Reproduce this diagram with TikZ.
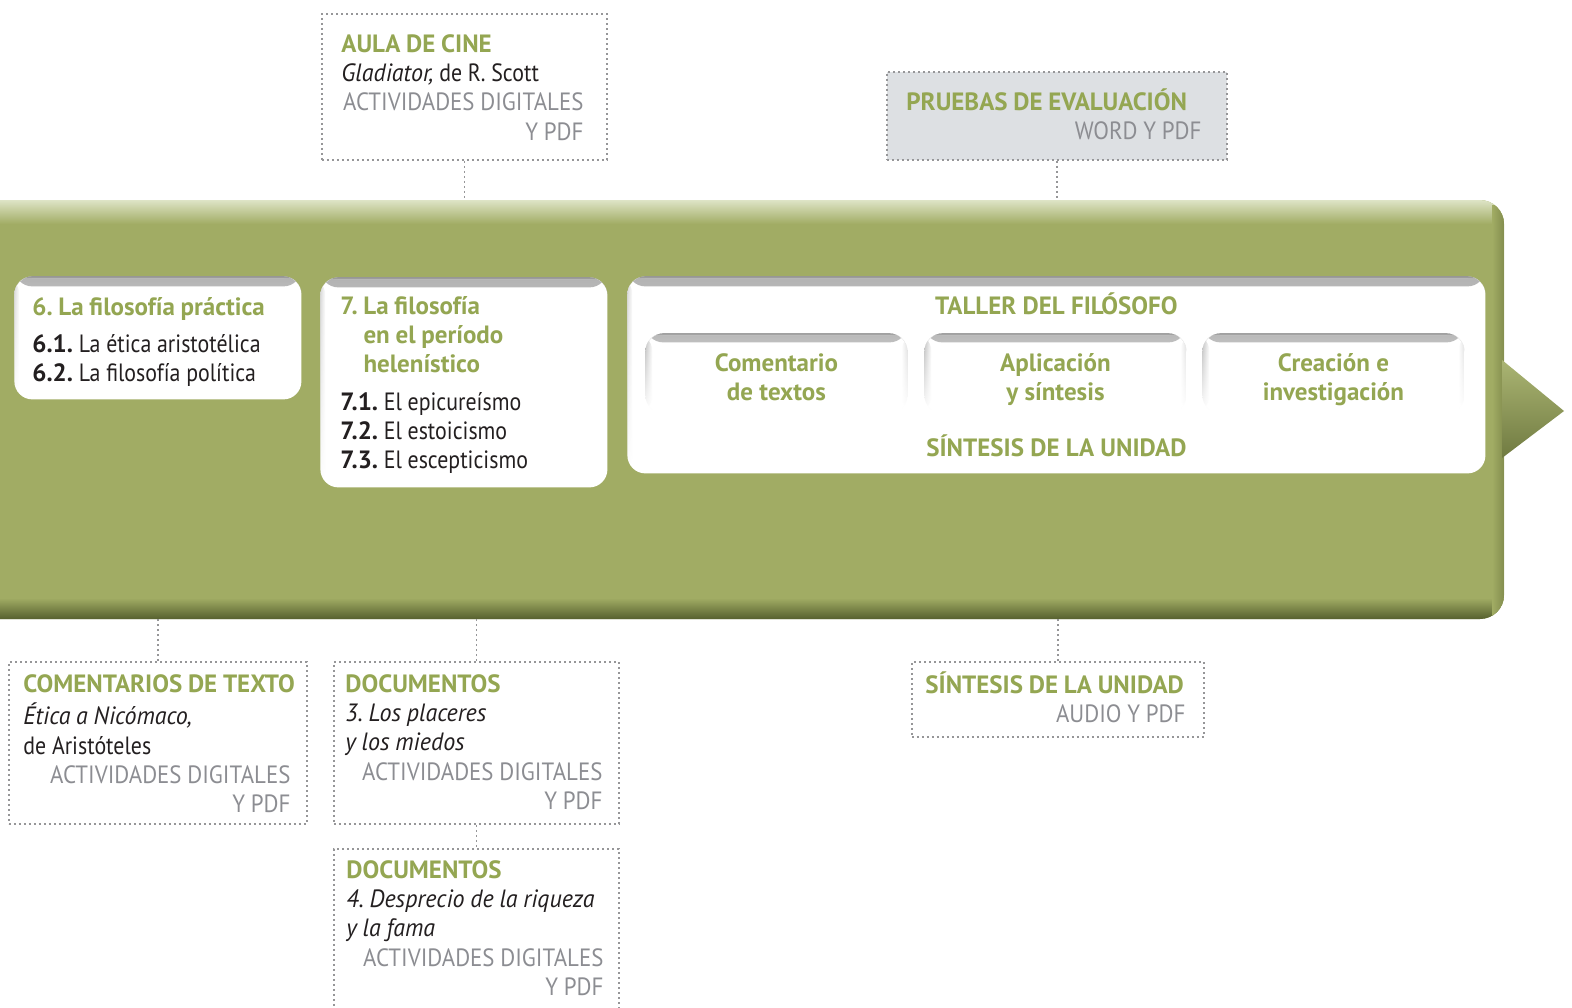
\documentclass[tikz,border=0pt]{standalone}
\usepackage{fontspec}
\setmainfont{PT Sans}[
  UprightFeatures={FakeStretch=0.875},
  ItalicFeatures={FakeStretch=0.96},
  BoldFeatures={FakeStretch=1.0}]
\newfontfamily\grayfont{PT Sans}[FakeStretch=0.915]
\usetikzlibrary{fadings}

\definecolor{band}{RGB}{161,172,100}
\definecolor{bandhi}{RGB}{222,228,198}
\definecolor{banddk}{RGB}{86,96,46}
\definecolor{headgreen}{RGB}{148,166,82}
\definecolor{graytext}{RGB}{140,141,146}
\definecolor{darktext}{RGB}{35,31,32}
\definecolor{linegray}{RGB}{150,150,152}
\definecolor{testfill}{RGB}{221,224,227}

\newcommand\bodyfont{\fontsize{12.5}{14.6}\selectfont\frenchspacing}
\newcommand\hd[1]{\textcolor{headgreen}{\mbox{\bfseries #1}}}
\newcommand\dig[1]{\hspace*{0pt plus 1fill}\textcolor{graytext}{\mbox{\grayfont #1}}}
\newcommand\itm[1]{\textbf{#1}}

\tikzfading[name=fadedown, top color=transparent!0, bottom color=transparent!100]

\tikzset{
  dotbox/.style={draw=linegray, dash pattern=on 0.9pt off 1.6pt, line width=0.9pt,
    anchor=north west, inner sep=0pt},
  link/.style={draw=linegray, dash pattern=on 0.9pt off 1.6pt, line width=0.9pt},
  boxtext/.style={anchor=north west, inner sep=0pt, align=left, font=\bodyfont, text=darktext,
    execute at begin node={\spaceskip=0.23em\relax}},
  tabtext/.style={anchor=north, inner sep=0pt, align=center, font=\bodyfont\bfseries, text=headgreen},
  panel/.style={fill=white, rounded corners=9pt, anchor=north west, inner sep=0pt,
    path picture={
      \shade[top color=black!30, bottom color=white]
        (path picture bounding box.north west) rectangle ([yshift=-5pt]path picture bounding box.north east);
      \shade[top color=black!45, bottom color=black!20]
        (path picture bounding box.north west) rectangle ([yshift=-1.2pt]path picture bounding box.north east);
      \shade[left color=black!15, right color=white, path fading=fadedown]
        (path picture bounding box.north west) rectangle ([xshift=2.5pt]path picture bounding box.south west);
    }},
  tab/.style={fill=white, rounded corners=9pt, anchor=north west, inner sep=0pt,
    minimum width=131pt, minimum height=40pt,
    path picture={
      \shade[top color=black!28, bottom color=white]
        (path picture bounding box.north west) rectangle ([yshift=-4.5pt]path picture bounding box.north east);
      \shade[top color=black!42, bottom color=black!18]
        (path picture bounding box.north west) rectangle ([yshift=-1.2pt]path picture bounding box.north east);
      \shade[left color=black!25, right color=white, path fading=fadedown]
        (path picture bounding box.north west) rectangle ([xshift=3.5pt]path picture bounding box.south west);
      \shade[right color=black!13, left color=white, path fading=fadedown]
        (path picture bounding box.north east) rectangle ([xshift=-3pt]path picture bounding box.south east);
    }},
}

\begin{document}
\begin{tikzpicture}[x=0.5pt, y=-0.5pt]
\useasboundingbox (0,0) rectangle (1572,1007);

\coordinate (bandtop) at (0,200);
\coordinate (bandbot) at (0,619);
\fill[band, rounded corners=12pt] (-40,200) rectangle (1504,619);
\begin{scope}
\clip[rounded corners=12pt] (-40,200) rectangle (1504,619);
\shade[top color=bandhi, bottom color=band] (-40,200) rectangle (1504,224);
\shade[top color=band, bottom color=banddk] (-40,598) rectangle (1504,619);
\shade[left color=band, right color=banddk!40!band] (1492,205) rectangle (1504,615);
\end{scope}
\shade[top color=band!85!bandhi, bottom color=banddk!65!band] (1502,360) -- (1564,411) -- (1502,458) -- cycle;

\node[panel, minimum width=143.5pt, minimum height=61.5pt] (prac) at (14,276) {};
\node[boxtext, text width=130pt] (pracT) at ([shift={(18,18.6)}]prac.north west)
  {\strut\hd{6. La filosofía práctica}\\[4pt]
   \itm{6.1.} La ética aristotélica\\
   \itm{6.2.} La filosofía política};

\node[panel, minimum width=143.5pt, minimum height=105pt] (hel) at (320,277) {};
\node[boxtext, text width=130pt] (helT) at ([shift={(20,16.6)}]hel.north west)
  {\strut\hd{7. La filosofía}\\
   \hphantom{\bfseries 7. }\hd{en el período}\\
   \hphantom{\bfseries 7. }\hd{helenístico}\\[4pt]
   \itm{7.1.} El epicureísmo\\
   \itm{7.2.} El estoicismo\\
   \itm{7.3.} El escepticismo};

\node[panel, minimum width=429pt, minimum height=98.5pt] (taller) at (627,276) {};
\node[tabtext] (tallerT) at ([shift={(0,16.6)}]taller.north) {\strut TALLER DEL FILÓSOFO};
\node[tab] (tabA) at (645,333) {};
\node[tab] (tabB) at (924,333) {};
\node[tab] (tabC) at (1202,333) {};
\node[tabtext] (tabAT) at ([shift={(0,17.6)}]tabA.north) {\strut Comentario\\de textos};
\node[tabtext] (tabBT) at ([shift={(0,17.6)}]tabB.north) {\strut Aplicación\\y síntesis};
\node[tabtext] (tabCT) at ([shift={(0,17.6)}]tabC.north) {\strut Creación e\\investigación};
\node[tabtext] (sintT) at ([shift={(0,158.6)}]taller.north) {\strut SÍNTESIS DE LA UNIDAD};

\node[dotbox, minimum width=142.5pt, minimum height=73pt] (cine) at (321,13) {};
\node[boxtext, text width=121pt] (cineT) at ([shift={(20,18.6)}]cine.north west)
  {\strut\hd{AULA DE CINE}\\
   \textit{Gladiator,} de R. Scott\\
   \dig{ACTIVIDADES DIGITALES}\\
   \dig{Y PDF}};

\node[dotbox, fill=testfill, minimum width=170pt, minimum height=44pt] (prueba) at (886,71) {};
\node[boxtext, text width=147.5pt] (pruebaT) at ([shift={(20,17.6)}]prueba.north west)
  {\strut\hd{PRUEBAS DE EVALUACIÓN}\\
   \dig{WORD Y PDF}};

\node[dotbox, minimum width=149pt, minimum height=81pt] (coment) at (8,661) {};
\node[boxtext, text width=133.5pt] (comentT) at ([shift={(15,10.6)}]coment.north west)
  {\strut\hd{COMENTARIOS DE TEXTO}\\
   \textit{Ética a Nicómaco,}\\
   de Aristóteles\\
   \dig{ACTIVIDADES DIGITALES}\\
   \dig{Y PDF}};

\node[dotbox, minimum width=142.5pt, minimum height=81pt] (docA) at (333,661) {};
\node[boxtext, text width=128.5pt] (docAT) at ([shift={(12,10.6)}]docA.north west)
  {\strut\hd{DOCUMENTOS}\\
   \textit{3. Los placeres}\\
   \textit{y los miedos}\\
   \dig{ACTIVIDADES DIGITALES}\\
   \dig{Y PDF}};

\node[dotbox, minimum width=142.5pt, minimum height=100pt] (docB) at (333,848) {};
\node[boxtext, text width=128.5pt] (docBT) at ([shift={(13,9.6)}]docB.north west)
  {\strut\hd{DOCUMENTOS}\\
   \textit{4. Desprecio de la riqueza}\\
   \textit{y la fama}\\
   \dig{ACTIVIDADES DIGITALES}\\
   \dig{Y PDF}};

\node[dotbox, minimum width=146pt, minimum height=37.5pt] (sint) at (911,661) {};
\node[boxtext, text width=130pt] (sintBT) at ([shift={(14,10.6)}]sint.north west)
  {\strut\hd{SÍNTESIS DE LA UNIDAD}\\
   \dig{AUDIO Y PDF}};

\draw[link] (cine.south) -- (cine.south |- bandtop);
\draw[link] (prueba.south) -- (prueba.south |- bandtop);
\draw[link] (coment.north) -- (coment.north |- bandbot);
\draw[link] (docA.north) -- (docA.north |- bandbot);
\draw[link] (docA.south) -- (docB.north);
\draw[link] (sint.north) -- (sint.north |- bandbot);
\end{tikzpicture}
\end{document}
